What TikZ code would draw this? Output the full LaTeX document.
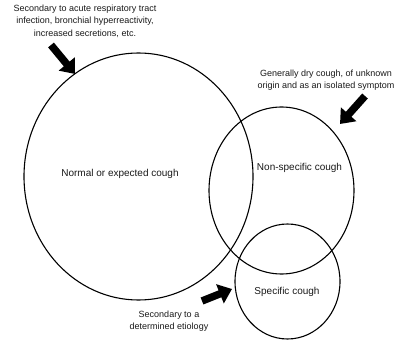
\documentclass[tikz,border=0pt]{standalone}
\usepackage{fontspec}
\setmainfont{Liberation Sans}
\usetikzlibrary{arrows.meta}

\tikzset{
  ring/.style={draw, line width=1.1pt},
  label/.style={font=\fontsize{10}{12}\selectfont, text=black!90},
  note/.style={font=\fontsize{9}{12.5}\selectfont, align=center, text=black!90},
  pointer/.style={line width=7.5pt, -{Triangle[length=13pt,width=20pt]}}
}

\begin{document}
\begin{tikzpicture}[x=1pt, y=-1pt]
  \useasboundingbox (0,0) rectangle (398,344);
  % the three sets, drawn as slightly tall ellipses:
  \foreach \cx/\cy/\rx/\ry in {138.5/176.5/114.5/123.5, 281.5/190.5/72.5/83.5, 287.5/281.5/52.5/57.5}
    \draw [ring] (\cx,\cy) ellipse ({\rx} and {\ry});

  % names of the sets:
  \node [label] (normal)      at (120,174)   {Normal or expected cough};
  \node [label] (nonspecific) at (299.5,168) {Non-specific cough};
  \node [label] (specific)    at (287,292)   {Specific cough};

  % notes and their pointers:
  \node [note] (acute) at (85,21)
    {Secondary to acute respiratory tract\\infection, bronchial hyperreactivity,\\increased secretions, etc.};
  \node [note] (dry) at (326,80)
    {Generally dry cough, of unknown\\origin and as an isolated symptom};
  \node [note] (etio) at (169,321)
    {Secondary to a\\determined etiology};

  \coordinate (acute-tail) at (51,45);
  \coordinate (acute-tip)  at (75,74);
  \coordinate (dry-tail)   at (365,96);
  \coordinate (dry-tip)    at (340,124);
  \coordinate (etio-tail)  at (202,301);
  \coordinate (etio-tip)   at (232,289);

  \foreach \n in {acute, dry, etio}
    \draw [pointer] (\n-tail) -- (\n-tip);
\end{tikzpicture}
\end{document}
